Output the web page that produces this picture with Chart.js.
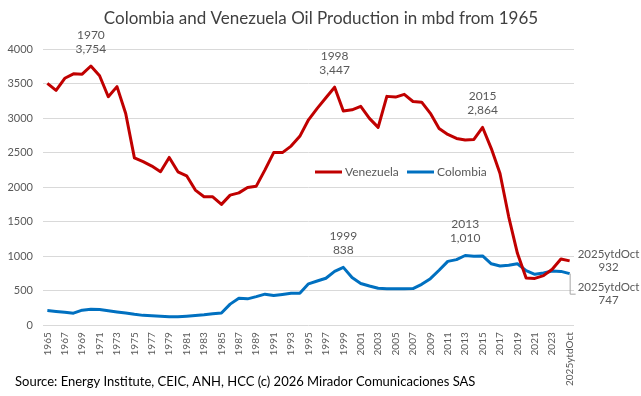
<!DOCTYPE html>
<html><head><meta charset="utf-8">
<script src="https://cdn.jsdelivr.net/npm/chart.js@4.4.1/dist/chart.umd.min.js"></script>
<style>html,body{margin:0;padding:0;background:#fff;}#wrap{width:641px;height:396px;position:relative;}</style>
</head><body><div id="wrap"><canvas id="c" width="641" height="396"></canvas></div>
<script>
const years = ['1965','1966','1967','1968','1969','1970','1971','1972','1973','1974',
'1975','1976','1977','1978','1979','1980','1981','1982','1983','1984',
'1985','1986','1987','1988','1989','1990','1991','1992','1993','1994',
'1995','1996','1997','1998','1999','2000','2001','2002','2003','2004',
'2005','2006','2007','2008','2009','2010','2011','2012','2013','2014',
'2015','2016','2017','2018','2019','2020','2021','2022','2023','2024','2025ytdOct'];
const venezuela = [3503,3401,3576,3640,3636,3754,3613,3309,3455,3065,
2423,2368,2305,2222,2430,2222,2164,1957,1860,1860,
1750,1884,1917,1996,2014,2250,2500,2500,2594,2735,
2975,3140,3294,3447,3101,3120,3169,2996,2865,3314,
3304,3343,3240,3230,3068,2850,2763,2705,2681,2691,
2864,2558,2198,1570,1042,684,678,718,810,960,932];
const colombia = [212,200,187,175,218,230,228,210,192,176,
158,143,137,131,124,124,132,142,152,166,
178,306,392,382,414,450,430,445,462,464,
600,640,680,780,838,690,605,568,535,530,
528,528,531,592,674,796,925,950,1010,998,
1004,890,858,870,890,790,738,756,785,780,747];
const yTicks = [0,500,1000,1500,2000,2500,3000,3500,4000];
const peakPoints = [[0,5],[0,33],[0,50],[1,34],[1,48]];
const endPoints = [[0,60],[1,60]];
const titleText = 'Colombia and Venezuela Oil Production in mbd from 1965';
const sourceText = 'Source: Energy Institute, CEIC, ANH, HCC (c) 2026 Mirador Comunicaciones SAS';

const FONT = 'Lato, "Open Sans", sans-serif';
const fmt = v => v.toLocaleString('en-US');

const decor = {
  id: 'decor',
  afterDatasetsDraw(chart) {
    const ctx = chart.ctx;
    ctx.save();
    ctx.fillStyle = '#404040';
    ctx.font = '17px ' + FONT;
    ctx.textAlign = 'center';
    ctx.textBaseline = 'middle';
    ctx.fillText(titleText, 321, 19);
    ctx.fillStyle = '#000000';
    ctx.font = '13px ' + FONT;
    ctx.textAlign = 'left';
    ctx.fillText(sourceText, 15, 382);
    ctx.font = '12px ' + FONT;
    const legendX = [315, 407];
    chart.data.datasets.forEach((ds, i) => {
      const x = legendX[i], y = 172;
      ctx.strokeStyle = ds.borderColor;
      ctx.lineWidth = 3;
      ctx.beginPath(); ctx.moveTo(x, y); ctx.lineTo(x + 27, y); ctx.stroke();
      ctx.fillStyle = '#595959';
      ctx.textAlign = 'left';
      ctx.fillText(ds.label, x + 30, y);
    });
    ctx.font = '12px ' + FONT;
    ctx.fillStyle = '#595959';
    ctx.textAlign = 'center';
    peakPoints.forEach(([s, i]) => {
      const p = chart.getDatasetMeta(s).data[i];
      const v = chart.data.datasets[s].data[i];
      ctx.fillText(chart.data.labels[i], p.x, p.y - 31);
      ctx.fillText(fmt(v), p.x, p.y - 17);
    });
    ctx.font = '11.5px ' + FONT;
    endPoints.forEach(([s, i], k) => {
      const p = chart.getDatasetMeta(s).data[i];
      const v = chart.data.datasets[s].data[i];
      const lab = chart.data.labels[i];
      const w = ctx.measureText(lab).width;
      const cx = p.x + 8 + w / 2;
      let cy = p.y;
      if (k === 1) {
        cy = p.y + 20;
        ctx.strokeStyle = '#a6a6a6';
        ctx.lineWidth = 1;
        ctx.beginPath();
        ctx.moveTo(p.x + 0.5, p.y);
        ctx.lineTo(p.x + 0.5, cy + 0.5);
        ctx.lineTo(p.x + 6, cy + 0.5);
        ctx.stroke();
      }
      ctx.fillStyle = '#595959';
      ctx.fillText(lab, cx, cy - 6.5);
      ctx.fillText(fmt(v), cx, cy + 6.5);
    });
    ctx.restore();
  }
};

new Chart(document.getElementById('c'), {
  type: 'line',
  data: {
    labels: years,
    datasets: [
      {label: 'Venezuela', data: venezuela, borderColor: '#C00000', backgroundColor: '#C00000', borderWidth: 3, pointRadius: 0, tension: 0, fill: false, borderJoinStyle: 'round'},
      {label: 'Colombia', data: colombia, borderColor: '#0070C0', backgroundColor: '#0070C0', borderWidth: 3, pointRadius: 0, tension: 0, fill: false, borderJoinStyle: 'round'}
    ]
  },
  options: {
    responsive: false, animation: false, devicePixelRatio: 1,
    layout: {padding: {top: 49, left: 0, right: 67, bottom: 3}},
    plugins: {legend: {display: false}, title: {display: false}, tooltip: {enabled: false}},
    scales: {
      x: {
        offset: true,
        grid: {display: false, drawTicks: false}, border: {display: false},
        ticks: {autoSkip: false, minRotation: 90, maxRotation: 90, color: '#595959', padding: 7,
          font: {family: FONT, size: 10},
          callback: function (v, i) { return i % 2 === 0 ? this.getLabelForValue(v) : ''; }}
      },
      y: {
        min: 0, max: 4000,
        afterFit: ax => { ax.width = 43; },
        afterBuildTicks: ax => { ax.ticks = yTicks.map(v => ({value: v})); },
        grid: {color: '#d9d9d9', lineWidth: 1, drawTicks: false}, border: {display: false},
        ticks: {color: '#595959', padding: 10, font: {family: FONT, size: 11}, callback: v => String(v)}
      }
    }
  },
  plugins: [decor]
});
</script></body></html>
